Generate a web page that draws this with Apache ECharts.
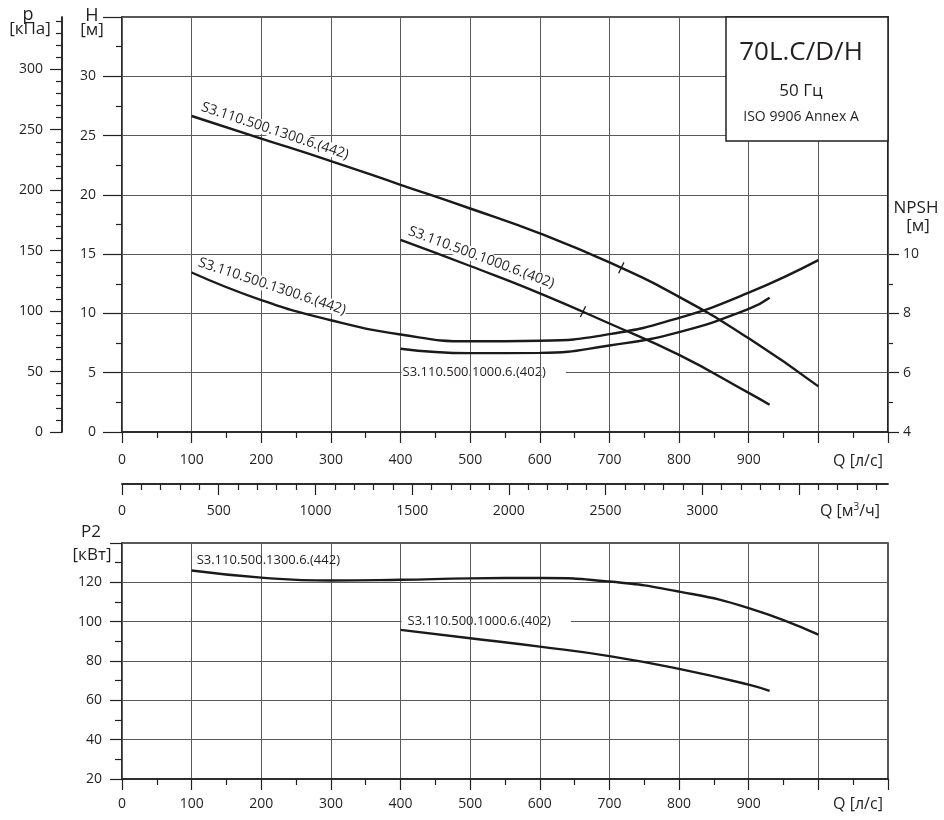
<!DOCTYPE html>
<html><head><meta charset="utf-8">
<script src="https://cdn.jsdelivr.net/npm/echarts@6/dist/echarts.min.js"></script>
<style>html,body{margin:0;padding:0;background:#fff}#c{width:944px;height:820px}</style>
</head><body><div id="c"></div>
<script>
// ---- data ----
const qA = [100, 200, 300, 400, 500, 600, 700, 800, 900, 1000];          // л/с, pump S3.110.500.1300.6.(442)
const head1300 = [26.65, 24.75, 22.85, 20.85, 18.85, 16.75, 14.3, 11.4, 7.9, 3.85];
const npsh1300 = [9.38, 8.45, 7.77, 7.29, 7.06, 7.08, 7.3, 7.85, 8.7, 9.8];
const power1300 = [126.0, 122.4, 120.9, 121.3, 122.0, 122.2, 120.4, 115.3, 106.9, 93.4];

const qB = [400, 500, 600, 700, 800, 900, 930];                          // л/с, pump S3.110.500.1000.6.(402)
const head1000 = [16.2, 14.0, 11.7, 9.15, 6.5, 3.3, 2.3];
const npsh1000 = [6.81, 6.66, 6.67, 6.92, 7.37, 8.15, 8.53];
const power1000 = [95.8, 91.6, 87.3, 82.5, 76.0, 68.0, 64.8];

const dutyQ = [717, 662];
const dutyH = [13.85, 10.15];

const name1300 = 'S3.110.500.1300.6.(442)';
const name1000 = 'S3.110.500.1000.6.(402)';

const pTicks = [0, 50, 100, 150, 200, 250, 300];
const pMinorTicks = [10,20,30,40,60,70,80,90,110,120,130,140,160,170,180,190,210,220,230,240,260,270,280,290,310,320,330,340];
const npshTicks = [4, 6, 8, 10];
const npshMinorTicks = [5, 7, 9];
const m3hTicks = [0, 500, 1000, 1500, 2000, 2500, 3000, 3500];
const m3hLabels = [0, 500, 1000, 1500, 2000, 2500, 3000];
const m3hMinorTicks = [100,200,300,400,600,700,800,900,1100,1200,1300,1400,1600,1700,1800,1900,2100,2200,2300,2400,2600,2700,2800,2900,3100,3200,3300,3400,3600,3700,3800,3900];

const Q_MAX = 1100, H_MAX = 35, G = 9.80665;

// ---- styles ----
const INK = '#231f20', GRIDC = '#5a5a5a', CURVE = '#1a1a1a';
const FONT = '"Open Sans", "Noto Sans", sans-serif';
const lbl = (extra) => Object.assign({color: INK, fontFamily: FONT, fontSize: 14}, extra || {});
const axisLine = {show: true, onZero: false, lineStyle: {color: INK, width: 1.5}};
const tickStyle = {color: INK, width: 1.2};
const plain = v => String(v);

const pairs = (xs, ys) => xs.map((x, i) => [x, ys[i]]);

const chart = echarts.init(document.getElementById('c'), null, {renderer: 'canvas'});

const curveSeries = (name, xi, yi, xs, ys, extra) => Object.assign({
  type: 'line', name, xAxisIndex: xi, yAxisIndex: yi, data: pairs(xs, ys), smooth: 0.5,
  showSymbol: false, z: 4, lineStyle: {color: CURVE, width: 2.4}, itemStyle: {color: CURVE}
}, extra || {});
const dutyMark = (i) => ({silent: true, symbol: 'rect', symbolSize: [1.3, 12], symbolRotate: -26,
  itemStyle: {color: CURVE}, label: {show: false}, data: [{coord: [dutyQ[i], dutyH[i]]}]});

const option = {
  animation: false,
  backgroundColor: '#fff',
  grid: [
    {left: 122, top: 17, width: 766, height: 415, show: true, borderColor: INK, borderWidth: 1.5, containLabel: false},
    {left: 122, top: 543, width: 766, height: 236, show: true, borderColor: INK, borderWidth: 1.5, containLabel: false}
  ],
  xAxis: [
    {type: 'value', gridIndex: 0, min: 0, max: Q_MAX, interval: 100, position: 'bottom', z: 2,
     axisLine, axisTick: {length: 11, lineStyle: tickStyle},
     minorTick: {show: true, splitNumber: 2, length: 6, lineStyle: tickStyle},
     axisLabel: lbl({margin: 21, formatter: v => (v >= 1000 ? '' : String(v))}),
     splitLine: {show: true, lineStyle: {color: GRIDC, width: 1}}},
    {type: 'value', gridIndex: 0, min: 0, max: Q_MAX * 3.6, position: 'bottom', offset: 52, z: 2,
     axisLine, axisTick: {length: 11, customValues: m3hTicks, lineStyle: tickStyle},
     axisLabel: lbl({margin: 20, customValues: m3hLabels, formatter: plain}), splitLine: {show: false}},
    {type: 'value', gridIndex: 0, min: 0, max: Q_MAX * 3.6, position: 'bottom', offset: 52, z: 2,
     axisLine, axisTick: {length: 6, customValues: m3hMinorTicks, lineStyle: tickStyle},
     axisLabel: {show: false}, splitLine: {show: false}},
    {type: 'value', gridIndex: 1, min: 0, max: Q_MAX, interval: 100, position: 'bottom', z: 2,
     axisLine, axisTick: {length: 11, lineStyle: tickStyle},
     minorTick: {show: true, splitNumber: 2, length: 6, lineStyle: tickStyle},
     axisLabel: lbl({margin: 18, formatter: v => (v >= 1000 ? '' : String(v))}),
     splitLine: {show: true, lineStyle: {color: GRIDC, width: 1}}}
  ],
  yAxis: [
    {type: 'value', gridIndex: 0, min: 0, max: H_MAX, interval: 5, position: 'left', z: 0,
     axisLine, axisTick: {length: 19, lineStyle: tickStyle},
     minorTick: {show: true, splitNumber: 2, length: 6, lineStyle: tickStyle},
     axisLabel: lbl({margin: 26, formatter: v => (v >= 35 ? '' : String(v))}),
     splitLine: {show: true, lineStyle: {color: GRIDC, width: 1}}},
    {type: 'value', gridIndex: 0, min: 0, max: H_MAX * G, position: 'left', offset: 60, z: 0,
     axisLine, axisTick: {length: 12, customValues: pTicks, lineStyle: tickStyle},
     axisLabel: lbl({margin: 19, customValues: pTicks, formatter: plain}), splitLine: {show: false}},
    {type: 'value', gridIndex: 0, min: 0, max: H_MAX * G, position: 'left', offset: 60, z: 0,
     axisLine, axisTick: {length: 6, customValues: pMinorTicks, lineStyle: tickStyle},
     axisLabel: {show: false}, splitLine: {show: false}},
    {type: 'value', gridIndex: 0, min: 4, max: 4 + H_MAX * 0.4, position: 'right', z: 0,
     axisLine, axisTick: {length: 11, customValues: npshTicks, lineStyle: tickStyle},
     axisLabel: lbl({margin: 15, customValues: npshTicks, formatter: plain}), splitLine: {show: false}},
    {type: 'value', gridIndex: 0, min: 4, max: 4 + H_MAX * 0.4, position: 'right', z: 0,
     axisLine, axisTick: {length: 5, customValues: npshMinorTicks, lineStyle: tickStyle},
     axisLabel: {show: false}, splitLine: {show: false}},
    {type: 'value', gridIndex: 1, min: 20, max: 140, interval: 20, position: 'left', z: 0,
     axisLine, axisTick: {length: 12, lineStyle: tickStyle},
     minorTick: {show: true, splitNumber: 2, length: 7, lineStyle: tickStyle},
     axisLabel: lbl({margin: 20, formatter: v => (v >= 140 ? '' : String(v))}),
     splitLine: {show: true, lineStyle: {color: GRIDC, width: 1}}}
  ],
  series: [
    curveSeries('H1300', 0, 0, qA, head1300, {markPoint: dutyMark(0)}),
    curveSeries('H1000', 0, 0, qB, head1000, {markPoint: dutyMark(1)}),
    curveSeries('N1300', 0, 3, qA, npsh1300),
    curveSeries('N1000', 0, 3, qB, npsh1000),
    curveSeries('P1300', 3, 5, qA, power1300),
    curveSeries('P1000', 3, 5, qB, power1000)
  ]
};
chart.setOption(option);

// ---- annotation texts, anchored through the chart's own coordinate system ----
const px = (finder, pt) => chart.convertToPixel(finder, pt);
const top0 = {xAxisIndex: 0, yAxisIndex: 0};
const topN = {xAxisIndex: 0, yAxisIndex: 3};
const bot = {xAxisIndex: 3, yAxisIndex: 5};
const deg = Math.PI / 180;

const aH13 = px(top0, [qA[0], head1300[0]]);
const aN13 = px(topN, [qA[0], npsh1300[0]]);
const aH10 = px(top0, [qB[0], head1000[0]]);
const aLab10 = px(top0, [qB[0], 5]);
const aP13 = px(bot, [qA[0], power1300[0]]);
const aP10 = px(bot, [qB[0], 100]);

const txt = (x, y, text, size, extra, z) => ({
  type: 'text', x, y, z: z == null ? 6 : z, silent: true,
  style: Object.assign({text, fill: INK, font: size + 'px ' + FONT, align: 'center', verticalAlign: 'middle'}, extra || {})
});

const graphics = [
  // rotated curve labels
  Object.assign(txt(aH13[0] + 7, aH13[1] - 3, name1300, 14, {align: 'left', verticalAlign: 'bottom', backgroundColor: '#fff', padding: [0, 1]}, 3), {rotation: -18.4 * deg}),
  Object.assign(txt(aN13[0] + 4, aN13[1] - 4, name1300, 14, {align: 'left', verticalAlign: 'bottom', backgroundColor: '#fff', padding: [0, 1]}, 3), {rotation: -18.3 * deg}),
  Object.assign(txt(aH10[0] + 5, aH10[1] - 3, name1000, 14, {align: 'left', verticalAlign: 'bottom', backgroundColor: '#fff', padding: [0, 1]}, 3), {rotation: -20.3 * deg}),
  // horizontal curve labels (mask the horizontal grid line only)
  txt(aLab10[0] + 1, aLab10[1], name1000, 13, {align: 'left', backgroundColor: '#fff', padding: [2, 20, 2, 1]}, 1),
  txt(aP13[0] + 5, aP13[1] - 10, name1300, 13, {align: 'left'}, 6),
  txt(aP10[0] + 1, aP10[1], name1000, 13, {align: 'left', backgroundColor: '#fff', padding: [2, 20, 2, 6]}, 1),
  // title box
  {type: 'rect', z: 5, silent: true, shape: {x: 726, y: 17, width: 162, height: 124}, style: {fill: '#fff', stroke: INK, lineWidth: 1.5}},
  txt(801, 53, '70L.C/D/H', 26),
  txt(801, 91, '50 Гц', 17),
  txt(801, 117, 'ISO 9906 Annex A', 14),
  // axis titles
  txt(28, 15, 'p', 18),
  txt(30, 29, '[кПа]', 17),
  txt(92, 16, 'H', 18),
  txt(92, 30, '[м]', 17),
  txt(916, 208, 'NPSH', 17),
  txt(918, 226, '[м]', 17),
  txt(91, 532, 'P2', 17),
  txt(92, 555, '[кВт]', 17),
  txt(858, 461, 'Q [л/с]', 16),
  txt(858, 804, 'Q [л/с]', 16),
  {type: 'text', z: 6, silent: true, x: 850, y: 511,
   style: {text: 'Q [м{s|3}/ч]', fill: INK, font: '16px ' + FONT, align: 'center', verticalAlign: 'middle',
           rich: {s: {fontSize: 10, fontFamily: FONT, fill: INK, verticalAlign: 'top', padding: [0, 0, 8, 0]}}}}
];
chart.setOption({graphic: graphics});
</script>
</body></html>
